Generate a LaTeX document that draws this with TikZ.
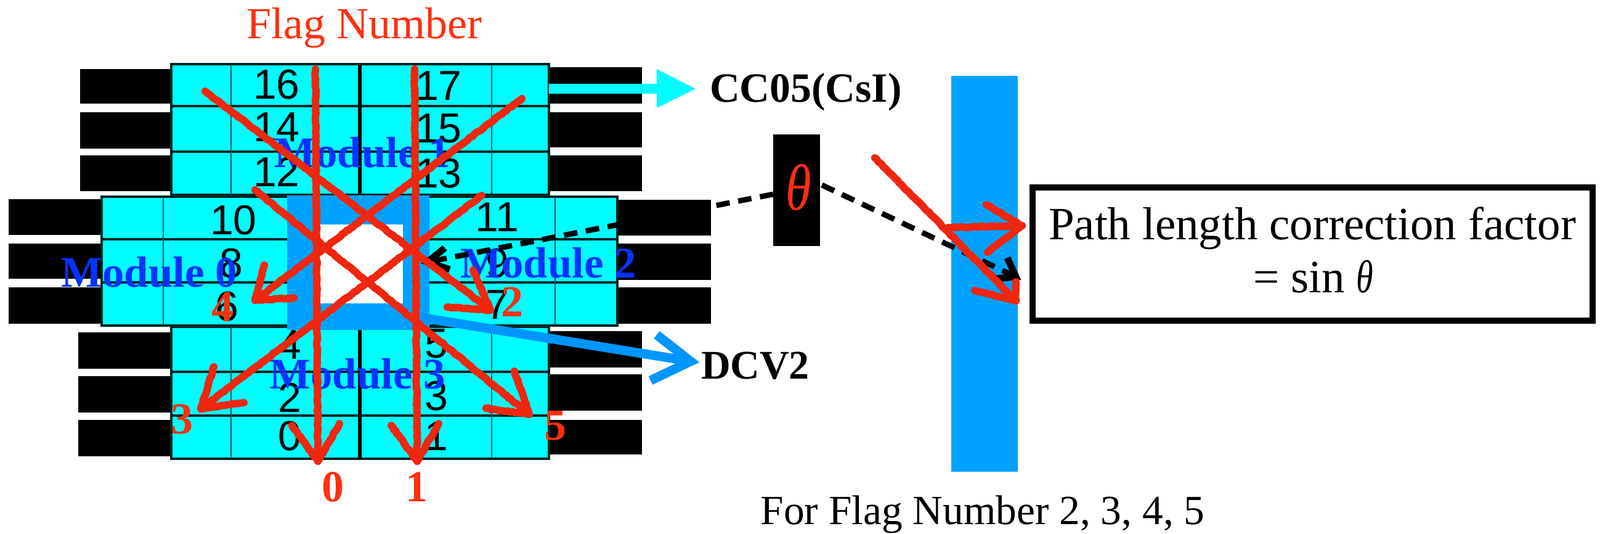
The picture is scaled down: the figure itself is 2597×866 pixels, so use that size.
\documentclass[tikz,border=0pt]{standalone}
\usepackage{fontspec}
\setmainfont{Liberation Serif}
\newfontfamily\digitfont{Liberation Sans}
\usetikzlibrary{decorations.pathmorphing}
\definecolor{cellcyan}{HTML}{00FDFF}
\definecolor{griddark}{HTML}{055A5C}
\definecolor{dcvblue}{HTML}{00A2FF}
\definecolor{dcvarrow}{HTML}{0096FF}
\definecolor{modblue}{HTML}{0433FF}
\definecolor{flagred}{HTML}{FF2F0E}
\definecolor{strokered}{HTML}{F0260E}
\tikzset{
  x=0.5pt,y=-0.5pt,
  txt/.style={inner sep=0pt,outer sep=0pt,anchor=base},
  bar/.style={fill=black},
  cell/.style={fill=cellcyan,draw=black!85!cellcyan,line width=2pt},
  thinline/.style={griddark,line width=0.9pt},
  rowline/.style={black!85!cellcyan,line width=1.8pt},
  midline/.style={black,line width=3pt},
  num/.style={txt,font=\digitfont\fontsize{34}{34}\selectfont},
  modlabel/.style={txt,text=modblue,font=\bfseries\fontsize{35.4}{35.4}\selectfont},
  flaglabel/.style={txt,text=flagred,font=\bfseries\fontsize{36}{36}\selectfont},
  hand/.style={strokered,line width=6pt,line cap=round,line join=round,
    decorate,decoration={random steps,segment length=2pt,amplitude=0.45pt,pre length=0pt,post length=0pt}},
  darrow/.style={black,line width=4.4pt,dash pattern=on 11pt off 7pt},
  dhead/.style={black,line width=5.5pt,line join=miter},
}
\begin{document}
\begin{tikzpicture}
\useasboundingbox (0,0) rectangle (2597,866);
% --- calorimeter bars
\foreach \a/\b in {112/168,182/241,252/310} \fill[bar] (130,\a) rectangle (278,\b);
\foreach \a/\b in {109/168,182/239,252/310} \fill[bar] (891,\a) rectangle (1042,\b);
\foreach \a/\b in {323/381,395/452,466/525} \fill[bar] (14,\a) rectangle (165,\b);
\foreach \a/\b in {324/382,395/454,466/525} \fill[bar] (1002,\a) rectangle (1154,\b);
\foreach \a/\b in {539/598,610/669,681/740} \fill[bar] (127,\a) rectangle (278,\b);
\foreach \a/\b in {537/596,607/666,681/737} \fill[bar] (891,\a) rectangle (1042,\b);
% --- cells
\draw[cell] (278,104) rectangle (891,316);
\draw[cell] (278,530) rectangle (891,744);
\draw[cell] (165,319) rectangle (1002,528);
\foreach \y in {172,246,603,674} \draw[rowline] (278,\y) -- (891,\y);
\foreach \y in {388,458} \draw[rowline] (165,\y) -- (1002,\y);
\foreach \x in {375,798} {\draw[thinline] (\x,105) -- (\x,315); \draw[thinline] (\x,531) -- (\x,743);}
\foreach \x in {265,901} \draw[thinline] (\x,320) -- (\x,527);
\draw[midline] (584,105) -- (584,316);
\draw[midline] (584,531) -- (584,744);
% --- cell numbers
\foreach \x/\y/\t in {449/161/16,712/163/17,449/230/14,712/232/15,449/303/12,712/305/13,
  379/380/10,807/375/11,375/450/8,807/450/9,368/520/6,807/517/7,
  470/582/4,708/580/5,470/668/2,708/665/3,470/730/0,708/730/1}
  \node[num] at (\x,\y) {\t};
% --- DCV2 frame
\fill[dcvblue,even odd rule] (466,317) rectangle (697,535) (516,364) rectangle (654,492);
\fill[white] (516,364) rectangle (654,492);
% --- module labels
\node[modlabel] (m1) at (588,271) {Module 1};
\node[modlabel] (m0) at (242,465) {Module 0};
\node[modlabel] (m2) at (890,450) {Module 2};
\node[modlabel] (m3) at (580,630) {Module 3};
% --- side shapes
\node[fill=dcvblue,minimum width=54pt,minimum height=321pt,inner sep=0pt,outer sep=0pt] (wall) at (1598,444) {};
\node[fill=black,minimum width=38pt,minimum height=90.5pt,inner sep=0pt,outer sep=0pt] (cell) at (1293,308.5) {};
\node[draw=black,line width=5pt,minimum width=454.5pt,minimum height=108pt,inner sep=0pt,outer sep=0pt] (pathbox) at (2130.5,412) {};
% --- labels
\node[txt,text=flagred,font=\fontsize{36}{36}\selectfont] (flagtitle) at (591,63) {Flag Number};
\node[txt,anchor=base west,font=\bfseries\fontsize{33.8}{33.8}\selectfont] (cc) at (1152,166) {CC05(CsI)};
\node[txt,anchor=base west,font=\bfseries\fontsize{33}{33}\selectfont] (dcv) at (1138,614) {DCV2};
\node[txt,font=\fontsize{33.7}{33.7}\selectfont] (forflag) at (1595,850) {For Flag Number 2, 3, 4, 5};
\node[txt,font=\fontsize{37.5}{37.5}\selectfont] (pl1) at (2130,388) {Path length correction factor};
\node[txt,font=\fontsize{37.5}{37.5}\selectfont] (pl2) at (2132,474) {= sin \scalebox{0.75}[1]{\textit{θ}}};
\node[txt,text=flagred,font=\itshape\fontsize{53}{53}\selectfont] (th) at (1296,341) {\scalebox{0.8}[1]{θ}};
% --- cyan arrow
\coordinate (cyt) at (1129,144);
\fill[cellcyan] (891,136) -- (1066,136) -- (1066,112) -- (cyt) -- (1066,175) -- (1066,152) -- (891,152) -- cycle;
% --- DCV arrow
\coordinate (da) at (684,515);
\coordinate (dt) at (1121,586);
\coordinate (db1) at (1066,543);
\coordinate (db2) at (1056,617);
\draw[dcvarrow,line width=7.5pt] (da) -- (dt);
\draw[dcvarrow,line width=7.5pt,line join=miter] (db1) -- (dt) -- (db2);
% --- dashed lines
\coordinate (l0) at (694,425);
\coordinate (l1) at (722,402);
\coordinate (l2) at (730,437);
\coordinate (r0) at (1649,449);
\coordinate (r1) at (1635,418);
\coordinate (r2) at (1616,452);
\coordinate (ls) at (1255,315);
\coordinate (rs) at (1334,300);
\draw[darrow] (ls) -- (l0);
\draw[dhead] (l1) -- (l0) -- (l2);
\draw[darrow] (rs) -- (r0);
\draw[dhead] (r1) -- (r0) -- (r2);
% --- red flag arrows
\coordinate (f0a) at (512,112); \coordinate (f0t) at (516,748);
\coordinate (f1a) at (673,112); \coordinate (f1t) at (677,748);
\coordinate (f2a) at (333,148); \coordinate (f2t) at (796,503);
\coordinate (f4a) at (847,160); \coordinate (f4t) at (414,487);
\coordinate (f5a) at (414,308); \coordinate (f5t) at (859,672);
\coordinate (f3a) at (782,317); \coordinate (f3t) at (326,663);
\coordinate (wa) at (1420,256); \coordinate (wt) at (1649,488);
\coordinate (va) at (1539,369); \coordinate (vt) at (1659,366);
\draw[hand] (f0a) -- (f0t); \draw[hand] (474,690) -- (f0t) -- (551,687);
\draw[hand] (f1a) -- (f1t); \draw[hand] (635,690) -- (f1t) -- (712,687);
\draw[hand] (f5a) -- (f5t); \draw[hand] (835,602) -- (f5t) -- (789,662);
\draw[hand] (f3a) -- (f3t); \draw[hand] (347,595) -- (f3t) -- (396,653);
\draw[hand] (f2a) -- (f2t); \draw[hand] (768,438) -- (f2t) -- (726,498);
\draw[hand] (f4a) -- (f4t); \draw[hand] (429,430) -- (f4t) -- (477,483);
\draw[hand] (wa) -- (wt); \draw[hand] (1649,457) -- (wt) -- (1582,471);
\draw[hand] (va) -- (vt); \draw[hand] (1601,332) -- (vt) -- (1603,409);
% --- flag numbers
\node[flaglabel] (n4) at (361,521) {4};
\node[flaglabel] (n3) at (295,703) {3};
\node[flaglabel] (n2) at (831,513) {2};
\node[flaglabel] (n5) at (901,713) {5};
\node[flaglabel] (n0) at (540,813) {0};
\node[flaglabel] (n1) at (676,813) {1};
\end{tikzpicture}
\end{document}
